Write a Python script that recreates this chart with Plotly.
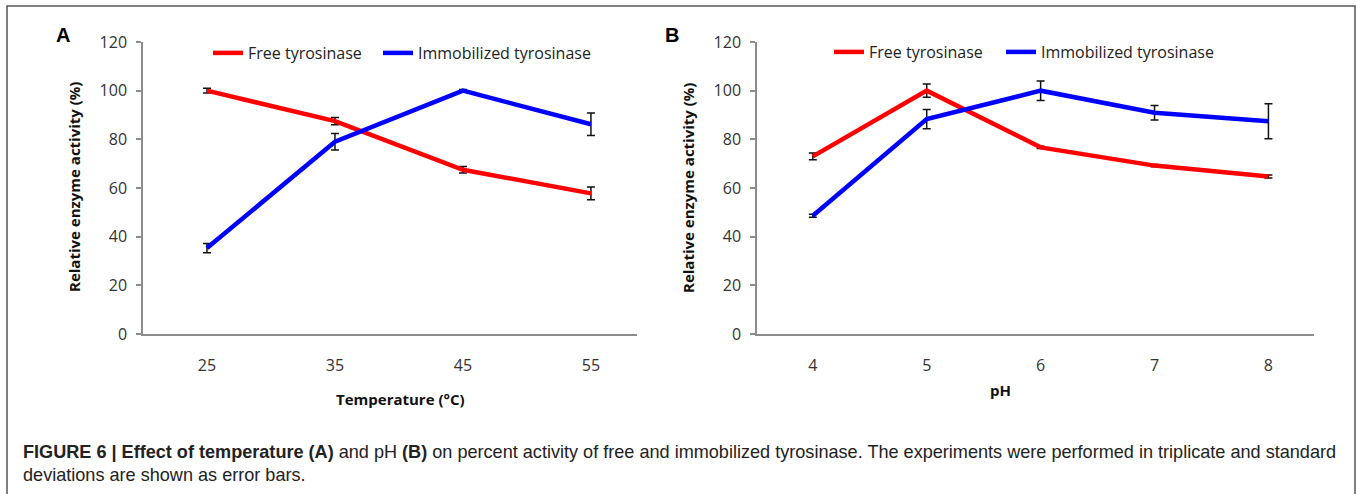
import plotly.graph_objects as go

W, H = 1357, 494

# ---- data ----
temps = [25, 35, 45, 55]
free_temp = [100, 87.5, 67.5, 57.8]
free_temp_sd = [1.0, 1.5, 1.3, 2.6]
imm_temp = [35.3, 79.0, 100, 86.2]
imm_temp_sd = [1.9, 3.4, 0.5, 4.6]

ph = [4, 5, 6, 7, 8]
free_ph = [73.0, 100, 76.7, 69.2, 64.7]
free_ph_sd = [1.4, 2.7, 0.5, 0.5, 0.6]
imm_ph = [48.6, 88.3, 100, 90.9, 87.4]
imm_ph_sd = [0.6, 4.0, 4.0, 3.0, 7.2]

y_ticks = [0, 20, 40, 60, 80, 100, 120]
series_names = ["Free tyrosinase", "Immobilized tyrosinase"]
colors = ["#ff0000", "#0000ff"]

caption1 = ("<b>FIGURE 6 | Effect of temperature (A)</b> and pH <b>(B)</b> on percent activity "
            "of free and immobilized tyrosinase. The experiments were performed in triplicate and standard")
caption2 = "deviations are shown as error bars."


def px(x):
    return x / W


def py(y):
    return 1 - y / H


fig = go.Figure()

err_style = dict(type="data", color="#111111", thickness=1.5, width=4)

panels = [
    ("x", "y", temps, [(free_temp, free_temp_sd), (imm_temp, imm_temp_sd)], ["legend", "legend2"]),
    ("x2", "y2", ph, [(free_ph, free_ph_sd), (imm_ph, imm_ph_sd)], ["legend3", "legend4"]),
]
for xa, ya, xs, series, legs in panels:
    for i, (ys, sd) in enumerate(series):
        fig.add_trace(go.Scatter(x=xs, y=ys, name=series_names[i], mode="lines",
                                 line=dict(color=colors[i], width=4.5),
                                 error_y=dict(array=sd, **err_style),
                                 xaxis=xa, yaxis=ya, legend=legs[i]))

tickfont = dict(family="Open Sans", size=16, color="#333333")
axcol = "#8c8c8c"

yax = dict(range=[0, 120], tickvals=y_ticks, showline=True, linecolor=axcol, linewidth=1.5,
           ticks="outside", ticklen=5, tickcolor=axcol, tickwidth=1.5, showgrid=False,
           zeroline=False, tickfont=tickfont, ticklabelstandoff=6, automargin=False,
           domain=[py(334), py(42)])
xax = dict(showline=True, linecolor=axcol, linewidth=1.5, ticks="", showgrid=False,
           zeroline=False, tickfont=tickfont, ticklabelstandoff=16, automargin=False)

legfont = dict(family="Open Sans", size=16, color="#222222")


def leg(xpix, ypix):
    return dict(orientation="h", x=px(xpix), y=py(ypix), xanchor="left", yanchor="middle",
                font=legfont, bgcolor="rgba(0,0,0,0)")


fig.update_layout(
    width=W, height=H,
    margin=dict(l=0, r=0, t=0, b=0, autoexpand=False),
    paper_bgcolor="white", plot_bgcolor="white",
    xaxis=dict(**xax, range=[20, 58.6], tickvals=temps, domain=[px(143), px(637)]),
    yaxis=dict(**yax, anchor="x"),
    xaxis2=dict(**xax, range=[3.51, 8.40], tickvals=ph, domain=[px(757), px(1314)], anchor="y2"),
    yaxis2=dict(**yax, anchor="x2"),
    legend=leg(208, 53),
    legend2=leg(378, 53),
    legend3=leg(829, 52),
    legend4=leg(1001, 52),
    showlegend=True,
)

ann = []
ytitle = "Relative enzyme activity (%)"
for xc in [73.5, 687.5]:
    ann.append(dict(x=px(xc), y=py(187.5), xref="paper", yref="paper", text="<b>%s</b>" % ytitle,
                    textangle=-90, showarrow=False, xanchor="center", yanchor="middle",
                    font=dict(family="Open Sans", size=15, color="#111111")))
ann.append(dict(x=px(400), y=py(399), xref="paper", yref="paper", text="<b>Temperature (°C)</b>",
                showarrow=False, xanchor="center", yanchor="middle",
                font=dict(family="Open Sans", size=15, color="#111111")))
ann.append(dict(x=px(1000), y=py(390), xref="paper", yref="paper", text="<b>pH</b>",
                showarrow=False, xanchor="center", yanchor="middle",
                font=dict(family="Open Sans", size=15, color="#111111")))
for lbl, xc in [("A", 63), ("B", 672)]:
    ann.append(dict(x=px(xc), y=py(35.5), xref="paper", yref="paper", text="<b>%s</b>" % lbl,
                    showarrow=False, xanchor="center", yanchor="middle",
                    font=dict(family="Liberation Sans", size=20, color="#000000")))
ann.append(dict(x=px(21), y=py(452), xref="paper", yref="paper", text=caption1,
                showarrow=False, xanchor="left", yanchor="middle",
                font=dict(family="Liberation Sans", size=18.1, color="#222222")))
ann.append(dict(x=px(21), y=py(475), xref="paper", yref="paper", text=caption2,
                showarrow=False, xanchor="left", yanchor="middle",
                font=dict(family="Liberation Sans", size=18.1, color="#222222")))
fig.update_layout(annotations=ann)

fig.add_shape(type="rect", xref="paper", yref="paper", x0=px(7), x1=px(1355), y0=-0.1, y1=py(6),
              line=dict(color="#555555", width=1.5), fillcolor="rgba(0,0,0,0)", layer="below")

fig.write_html("out.html")
